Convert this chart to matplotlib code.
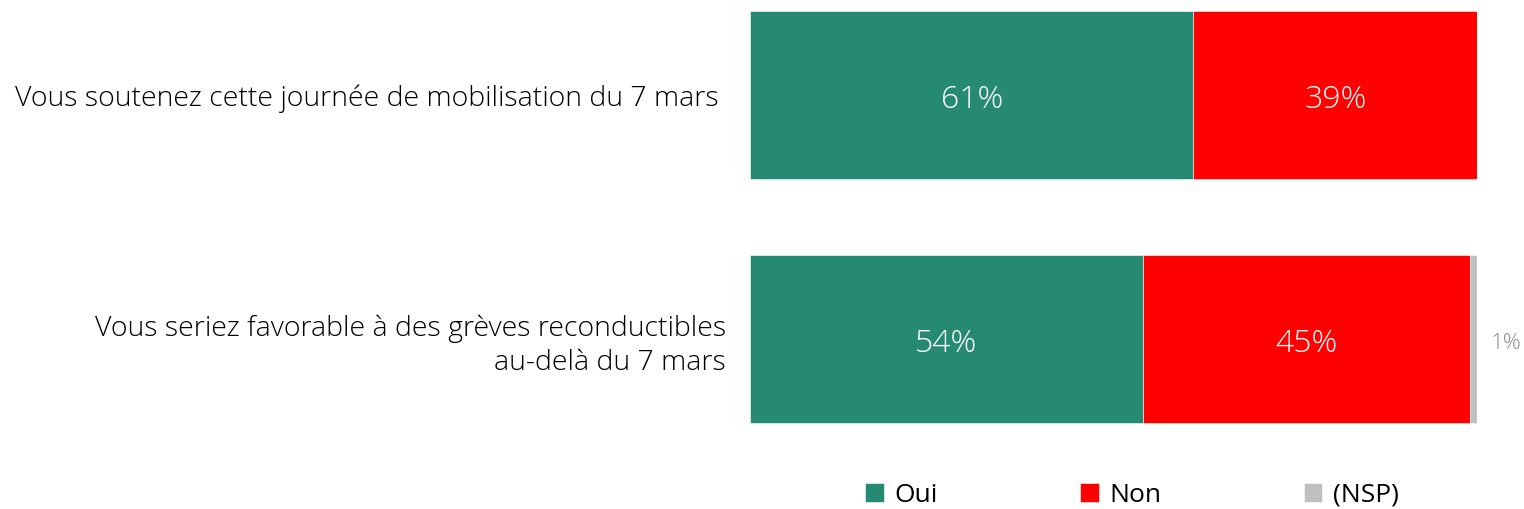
import matplotlib
matplotlib.use("Agg")
import matplotlib.pyplot as plt
import numpy as np

categories = ["Vous soutenez cette journée de mobilisation du 7 mars ",
              "Vous seriez favorable à des grèves reconductibles\nau-delà du 7 mars"]
series_names = ["Oui", "Non", "(NSP)"]
oui = [61, 54]
non = [39, 45]
nsp = [0, 1]
colors = ["#268A73", "#FF0000", "#BFBFBF"]

plt.rcParams['font.family'] = ['Open Sans', 'DejaVu Sans']

fig = plt.figure(figsize=(15.24, 5.09), dpi=100)
ax = fig.add_axes([750/1524, 0, 727/1524, 1])

y = np.arange(len(categories))
h = 168/244
left = np.zeros(len(categories))
handles = []
for name, vals, c in zip(series_names, [oui, non, nsp], colors):
    vals = np.array(vals, dtype=float)
    b = ax.barh(y, vals, left=left, height=h, color=c, edgecolor='white', linewidth=0.4, label=name)
    handles.append(b)
    for i, v in enumerate(vals):
        if v <= 0:
            continue
        if v >= 5:
            ax.text(left[i] + v/2, y[i] + 0.02, f"{int(v)}%", ha='center', va='center',
                    color='white', fontsize=23, fontweight='light')
        else:
            ax.text(left[i] + v + 1.9, y[i] + 0.02, f"{int(v)}%", ha='left', va='center',
                    color='#8C8C8C', fontsize=16, fontweight='light')
    left = left + vals

ax.set_xlim(0, 100)
ax.set_ylim((509-95)/244, -95/244)
ax.set_yticks(y)
ax.set_yticklabels(categories, fontsize=20.5, ha='right', fontweight='light',
                   linespacing=1.3)
ax.tick_params(axis='y', length=0, pad=17.3)
ax.tick_params(axis='x', bottom=False, labelbottom=False)
for s in ax.spines.values():
    s.set_visible(False)

fig.legend(handles=handles, labels=series_names, loc='center',
           bbox_to_anchor=(1132/1524, 1-495/509), ncol=3, frameon=False,
           fontsize=19, handlelength=0.7, handleheight=0.7, handletextpad=0.4,
           columnspacing=5.4)

fig.savefig("out.png", dpi=100)
